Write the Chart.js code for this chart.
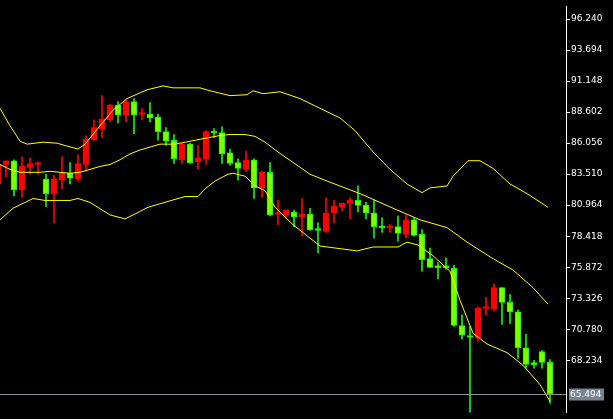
<!DOCTYPE html>
<html><head><meta charset="utf-8">
<script src="https://cdn.jsdelivr.net/npm/chart.js@4/dist/chart.umd.min.js"></script>
<style>html,body{margin:0;padding:0;background:#000;}#wrap{width:613px;height:419px;}</style>
</head><body><div id="wrap"><canvas id="c"></canvas></div>
<script>
const firstIndex = -1;
const opens  = [82.70,84.30,84.61,82.22,84.06,84.30,83.10,81.91,83.02,83.58,83.10,84.30,86.29,87.24,87.96,89.15,88.36,89.47,88.40,88.43,88.20,87.00,86.29,84.69,85.97,84.53,84.77,86.95,86.92,85.25,84.45,83.90,84.69,82.38,83.66,80.20,80.16,80.40,80.00,80.24,79.04,78.80,80.32,80.79,81.11,81.35,80.95,80.32,79.15,79.10,79.20,78.56,79.76,78.56,76.57,75.90,75.88,75.78,71.09,70.15,70.05,72.48,72.44,74.19,72.99,72.20,69.26,67.93,68.94,68.06];
const highs  = [84.53,84.61,84.69,84.93,84.85,84.45,83.50,83.42,84.93,84.45,85.09,86.68,87.96,89.95,89.23,89.47,89.63,89.71,88.91,89.39,88.43,87.32,86.76,86.05,86.05,85.89,87.08,87.24,87.40,85.57,84.77,85.41,84.77,83.74,84.45,81.35,80.55,80.55,81.51,80.71,79.52,81.59,81.35,81.11,81.59,82.54,81.19,81.43,79.92,79.36,80.08,80.16,79.92,78.96,77.45,76.26,76.65,76.02,71.96,71.01,72.59,73.39,74.51,74.19,73.63,72.36,70.37,68.22,69.02,68.30];
const lows   = [82.62,83.26,81.75,81.59,83.50,83.50,80.87,79.52,82.30,82.70,82.94,83.74,86.29,86.52,87.80,87.72,87.80,86.84,87.96,87.80,86.29,85.89,84.38,84.38,84.38,83.90,84.30,86.52,84.38,84.22,83.02,83.74,81.51,81.59,80.08,79.36,79.92,79.20,78.41,78.88,77.05,78.72,79.52,80.47,79.84,80.40,79.84,78.25,78.72,78.72,78.01,78.25,78.41,75.54,75.86,74.91,75.70,71.01,69.97,63.84,69.81,71.96,72.28,71.17,71.25,68.38,67.58,67.58,67.58,64.71];
const closes = [84.30,84.61,82.22,84.14,84.38,84.38,81.91,83.10,83.58,83.18,84.38,86.37,87.32,88.04,89.15,88.36,89.47,88.36,88.45,88.12,87.00,86.21,84.77,85.97,84.45,84.85,87.00,86.88,85.17,84.38,83.98,84.69,82.38,83.66,80.16,80.26,80.55,80.00,80.24,78.96,78.88,80.32,80.87,81.11,81.35,80.95,80.32,79.20,79.10,79.15,78.64,79.76,78.49,76.49,75.86,75.84,75.82,71.09,70.29,70.10,72.52,72.52,74.19,72.99,72.20,69.26,67.90,67.88,68.06,65.49];
const upperBand = [[-0.75,88.91],[0.5,87.48],[1.75,86.21],[2.63,85.97],[4.63,86.13],[6.38,86.05],[7.63,85.81],[9.0,85.57],[9.88,85.97],[11.75,87.48],[13.38,88.76],[15.13,89.71],[17.63,90.43],[19.63,90.75],[20.88,90.59],[24.25,90.59],[25.5,90.35],[28.0,89.95],[30.13,90.03],[30.88,90.35],[32.13,90.11],[34.25,90.27],[36.75,89.71],[39.25,88.91],[41.75,88.12],[43.63,87.08],[45.88,85.33],[48.0,83.90],[50.13,82.70],[52.0,81.99],[53.0,82.38],[55.13,82.54],[55.88,83.34],[57.75,84.61],[59.25,84.61],[60.88,83.98],[63.0,82.70],[65.13,81.91],[67.75,80.79]];
const middleBand = [[-0.75,84.30],[0.5,83.90],[1.75,83.66],[4.25,83.66],[5.5,83.74],[8,83.58],[9.25,83.66],[10.5,83.90],[11.75,84.14],[13,84.30],[14.25,84.69],[15.5,85.17],[16.75,85.49],[18,85.73],[19.25,85.97],[21.13,85.97],[23,86.21],[24.88,86.45],[26.75,86.68],[28,86.76],[29.88,86.76],[31.13,86.61],[32.38,86.13],[34,85.33],[38,83.50],[40.13,82.94],[44.25,81.91],[48.38,80.71],[51.75,79.76],[55.13,79.12],[57.63,77.93],[60.88,76.57],[63.38,75.64],[65.88,74.19],[67.75,72.84]];
const lowerBand = [[-0.75,79.76],[0.88,80.71],[3.38,81.51],[4.88,81.35],[8,81.35],[9,81.51],[10.5,81.19],[13,80.16],[14.88,79.84],[16.38,80.32],[17.75,80.79],[20.25,81.27],[22.38,81.67],[24,81.67],[24.88,82.30],[26.13,82.94],[27.75,83.50],[28.38,83.58],[29.88,83.34],[31.13,82.54],[32.38,82.16],[33.63,80.79],[35.88,79.36],[39.25,77.61],[43.88,77.21],[45.88,77.53],[49,77.53],[50.13,77.93],[51.5,77.69],[53.38,76.81],[55.5,75.54],[56.75,73.16],[58.38,70.45],[60.13,69.57],[62.63,68.86],[64.63,67.82],[66.75,66.23],[68,64.87]];
const tickValues = [96.240,93.694,91.148,88.602,86.056,83.510,80.964,78.418,75.872,73.326,70.780,68.234];
const currentPrice = 65.494;

const GREEN_FILL = '#7cff00', GREEN_EDGE = '#00ff00', RED = '#ff0000';
const wicks = [], bodies = [], wickColors = [], bodyColors = [], bodyEdges = [];
for (let i = 0; i < opens.length; i++) {
  const x = firstIndex + i;
  const up = closes[i] >= opens[i];
  wicks.push({x: x, y: [lows[i], highs[i]]});
  bodies.push({x: x, y: [Math.min(opens[i], closes[i]), Math.max(opens[i], closes[i])]});
  wickColors.push(up ? RED : GREEN_EDGE);
  bodyColors.push(up ? RED : GREEN_FILL);
  bodyEdges.push(up ? RED : GREEN_EDGE);
}
const pts = a => a.map(p => ({x: p[0], y: p[1]}));
const lineDs = (d) => ({type:'line', data: pts(d), borderColor:'#ffff00', borderWidth:1, pointRadius:0, tension:0, order:0});

const pricePlugin = {
  id:'price',
  afterDatasetsDraw(chart){
    const {ctx, chartArea, scales} = chart;
    const y = Math.round(scales.y.getPixelForValue(currentPrice)) + 0.5;
    ctx.save();
    ctx.strokeStyle = '#8a9098'; ctx.lineWidth = 1;
    ctx.beginPath(); ctx.moveTo(chartArea.left, y); ctx.lineTo(chartArea.right, y); ctx.stroke();
    ctx.fillStyle = '#778390';
    ctx.fillRect(chartArea.right + 3, y - 6, 35, 12);
    ctx.fillStyle = '#ffffff'; ctx.font = '9px "DejaVu Sans"';
    ctx.textBaseline = 'middle'; ctx.textAlign = 'left';
    ctx.fillText(currentPrice.toFixed(3), chartArea.right + 4, y);
    ctx.restore();
  }
};

new Chart(document.getElementById('c'), {
  type:'bar',
  data:{datasets:[
    lineDs(upperBand), lineDs(middleBand), lineDs(lowerBand),
    {data: bodies, backgroundColor: bodyColors, borderColor: bodyEdges, borderWidth:1, borderSkipped:false, barThickness:6, minBarLength:2, grouped:false, order:1},
    {data: wicks, backgroundColor: wickColors, borderWidth:0, barThickness:1, grouped:false, order:2}
  ]},
  options:{
    responsive:true, maintainAspectRatio:false, animation:false,
    layout:{padding:0},
    plugins:{legend:{display:false}, tooltip:{enabled:false}},
    scales:{
      x:{type:'linear', min:-0.75, max:70, display:false, offset:false},
      y:{position:'right', min:63.94, max:97.274,
        afterFit(s){ s.width = 47; },
        afterBuildTicks(s){ s.ticks = tickValues.map(v => ({value:v})); },
        ticks:{color:'#ffffff', font:{family:'DejaVu Sans', size:9}, padding:1, callback:v => Number(v).toFixed(3)},
        grid:{drawOnChartArea:false, color:'#ffffff', tickLength:4},
        border:{color:'#ffffff', width:1}
      }
    }
  },
  plugins:[pricePlugin]
});
</script></body></html>
